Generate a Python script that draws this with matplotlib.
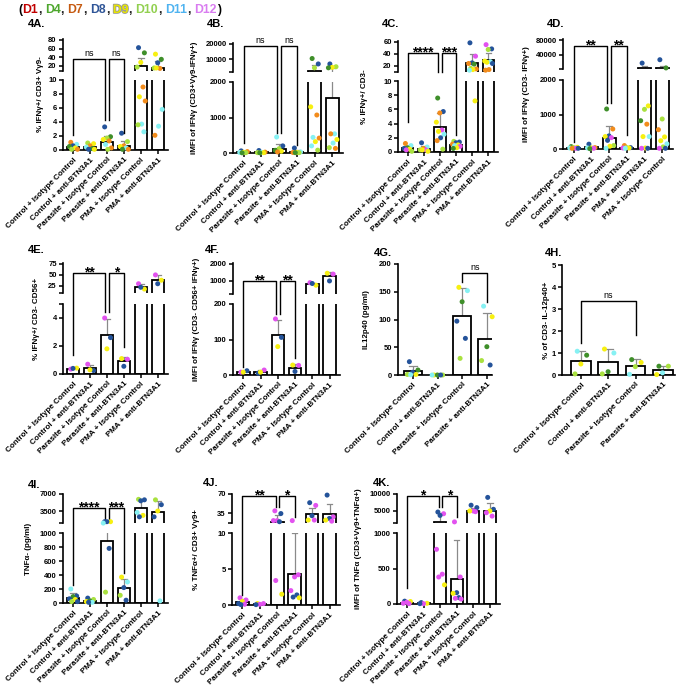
import numpy as np
import matplotlib
matplotlib.use("Agg")
import matplotlib.pyplot as plt
import matplotlib.patheffects as pe
from matplotlib.transforms import blended_transform_factory

# ---------------- data ----------------
GROUPS6 = ["Control + Isotype Control", "Control + anti-BTN3A1", "Parasite + Isotype Control",
           "Parasite + anti-BTN3A1", "PMA + Isotype Control", "PMA + anti-BTN3A1"]
GROUPS6_D = ["Control + Isotype Control", "Control + anti-BTN3A1", "Parasite + Isotype Control",
             "Parasite + anti-BTN3A1", "PMA + anti-BTN3A1", "PMA + Isotype Control"]
GROUPS4 = ["Control + Isotype Control", "Control + anti-BTN3A1", "Parasite + Isotype Control",
           "Parasite + anti-BTN3A1"]

DONORS = ["D1", "D4", "D7", "D8", "D9", "D10", "D11", "D12"]
DONOR_LEGEND_COLORS = ["#c00000", "#4ea72e", "#c55a11", "#2f5597", "#e8e600", "#92d050", "#4fb3f0", "#d97cf0"]
DONOR_DOT_COLORS = ["#c00000", "#3f8f2a", "#f28c1c", "#24539a", "#f7f011", "#a9e13f", "#86f1f3", "#e252ef"]

# 4A
A_vals = [[1.1, 0.8, 0.6, 0.5, 0.3, 0.1, 0.1], [1.0, 0.9, 0.6, 0.4, 0.2, 0.1, 0.1],
          [3.3, 1.9, 1.7, 1.5, 1.3, 0.8, 0.3, 0.1], [2.4, 1.2, 0.6, 0.5, 0.3, 0.1, 0.1],
          [62, 50, 28, 17, 9, 7.6, 7, 3.7, 3.6, 2.6], [47, 35, 27, 15, 14, 15, 5.8, 3.4, 2.1]]
A_donors = [["D7", "D11", "D8", "D4", "D9", "D10", "D7"], ["D10", "D9", "D7", "D11", "D4", "D8", "D9"],
            ["D8", "D4", "D10", "D9", "D7", "D11", "D7", "D10"], ["D8", "D10", "D7", "D9", "D11", "D4", "D7"],
            ["D8", "D4", "D9", "D10", "D7", "D9", "D7", "D11", "D10", "D11"],
            ["D9", "D4", "D8", "D10", "D7", "D9", "D11", "D11", "D7"]]
A_mean = [0.5, 0.45, 1.1, 0.55, 19, 16]
A_sd = [0.4, 0.4, 0.9, 0.75, 20, 15]

# 4B
B_vals = [[60, 40, 20, 15, 10, 5], [70, 25, 20, 10, 10, 5], [450, 200, 120, 75, 50, 30],
          [140, 30, 20, 15, 10, 10], [10500, 7000, 4500, 1300, 1070, 440, 420, 320, 200, 80],
          [7000, 5200, 4800, 4500, 540, 540, 380, 280, 150, 130]]
B_donors = [["D8", "D7", "D9", "D11", "D10", "D4"], ["D8", "D7", "D11", "D10", "D9", "D4"],
            ["D11", "D8", "D10", "D4", "D9", "D7"], ["D8", "D11", "D9", "D7", "D10", "D4"],
            ["D4", "D8", "D10", "D9", "D7", "D11", "D7", "D9", "D11", "D10"],
            ["D8", "D10", "D9", "D4", "D11", "D7", "D9", "D11", "D10", "D7"]]
B_mean = [20, 22, 120, 30, 2600, 1560]
B_sd = [20, 25, 120, 45, 3400, 2500]

# 4C
C_vals = [[1.2, 0.9, 0.6, 0.5, 0.4, 0.3, 0.1], [1.3, 0.7, 0.5, 0.3, 0.3, 0.3, 0.1],
          [7.6, 5.7, 5.5, 4.2, 3.1, 2.9, 2.5, 2.0, 1.6, 0.4], [1.5, 1.4, 1.3, 1.1, 1.0, 0.9, 0.8, 0.6, 0.5],
          [58, 36, 25, 24, 23, 16, 15, 14, 13, 7.2], [55, 48, 47, 28, 27, 26, 24, 14, 13]]
C_donors = [["D7", "D11", "D4", "D8", "D9", "D12", "D10"], ["D8", "D11", "D7", "D10", "D12", "D9", "D9"],
            ["D4", "D8", "D7", "D9", "D12", "D9", "D11", "D8", "D7", "D10"],
            ["D10", "D8", "D8", "D7", "D9", "D11", "D12", "D9", "D4"],
            ["D8", "D12", "D8", "D7", "D4", "D10", "D7", "D9", "D11", "D9"],
            ["D12", "D8", "D10", "D9", "D11", "D9", "D8", "D7", "D7"]]
C_mean = [0.5, 0.4, 3.5, 1.0, 24, 29]
C_sd = [0.4, 0.45, 2.0, 0.35, 16, 12]

# 4D
D_vals = [[70, 50, 40, 30, 20, 20, 20], [140, 40, 30, 30, 20, 10],
          [1160, 580, 380, 360, 330, 250, 100, 80, 20], [100, 40, 40, 30, 30, 20],
          [16500, 1250, 1150, 820, 720, 360, 360, 30, 20, 20],
          [26000, 3000, 870, 560, 350, 240, 150, 60, 20, 20]]
D_donors = [["D4", "D9", "D10", "D11", "D12", "D7", "D8"], ["D8", "D7", "D9", "D11", "D12", "D4"],
            ["D4", "D7", "D8", "D9", "D12", "D8", "D10", "D9", "D11"], ["D7", "D8", "D10", "D12", "D9", "D11"],
            ["D8", "D9", "D10", "D4", "D7", "D9", "D11", "D9", "D12", "D8"],
            ["D8", "D4", "D10", "D7", "D9", "D9", "D11", "D10", "D12", "D8"]]
D_mean = [35, 45, 330, 40, 3500, 3500]
D_sd = [20, 45, 340, 30, 5000, 5000]

# 4E
E_vals = [[0.35, 0.42, 0.4], [0.7, 0.25, 0.3], [4.0, 2.6, 1.8], [1.1, 1.05, 0.55], [30, 18, 22], [50, 38, 30]]
E_donors = [["D12", "D9", "D8"], ["D12", "D8", "D9"], ["D12", "D8", "D9"], ["D9", "D12", "D8"],
            ["D12", "D9", "D8"], ["D12", "D9", "D8"]]
E_mean = [0.38, 0.42, 2.8, 0.9, 23, 39]
E_sd = [0.04, 0.23, 1.1, 0.3, 6, 10]

# 4F
F_vals = [[8, 12, 8], [5, 14, 8], [158, 106, 80], [28, 27, 10], [900, 750, 850], [1450, 1400, 1000]]
F_donors = [["D12", "D8", "D9"], ["D8", "D12", "D9"], ["D12", "D8", "D9"], ["D9", "D12", "D8"],
            ["D12", "D9", "D8"], ["D9", "D12", "D8"]]
F_mean = [9, 9, 114, 21, 830, 1280]
F_sd = [2, 4.5, 40, 10, 75, 250]

# 4G
G_vals = [[24, 9, 5, 1, 1, 0.5], [0, 0, 0, 0, 0], [158, 152, 132, 97, 66, 30], [124, 105, 51, 26, 18]]
G_donors = [["D8", "D4", "D8", "D10", "D9", "D11"], ["D9", "D10", "D4", "D11", "D8"],
            ["D9", "D11", "D4", "D8", "D8", "D10"], ["D11", "D9", "D4", "D10", "D8"]]
G_mean = [6.5, 0, 106, 64]
G_sd = [9, 0, 50, 48]

# 4H
H_vals = [[1.08, 0.9, 0.5, 0.05], [1.18, 1.0, 0.15, 0.05], [0.7, 0.57, 0.38, 0.03], [0.4, 0.4, 0.1, 0.02]]
H_donors = [["D11", "D4", "D9", "D10"], ["D9", "D11", "D4", "D10"], ["D4", "D9", "D10", "D11"],
            ["D4", "D10", "D11", "D9"]]
H_mean = [0.63, 0.6, 0.42, 0.23]
H_sd = [0.45, 0.58, 0.3, 0.18]

# 4I
I_vals = [[200, 100, 90, 60, 50, 20, 20], [70, 50, 30, 20, 10, 10], [1300, 1300, 1300, 1020, 780, 155],
          [370, 300, 220, 110, 40], [5900, 5800, 5600, 3200, 2600, 2300], [5800, 4800, 3500, 2300, 30]]
I_donors = [["D11", "D8", "D4", "D8", "D9", "D10", "D8"], ["D8", "D10", "D4", "D9", "D11", "D8"],
            ["D8", "D9", "D8", "D11", "D8", "D10"], ["D9", "D11", "D8", "D10", "D8"],
            ["D10", "D8", "D8", "D11", "D9", "D8"], ["D10", "D8", "D9", "D8", "D11"]]
I_mean = [75, 30, 890, 210, 4100, 3300]
I_sd = [65, 25, 450, 140, 1600, 2300]

# 4J
J_vals = [[1.0, 0.7, 0.5, 0.2, 0.1, 0.05], [0.2, 0.2, 0.1, 0.05], [39, 34, 21, 21, 19, 3.4, 1.5],
          [21, 4.2, 3.9, 2.0, 1.4, 1.1, 1.0], [54, 49, 30, 22, 22], [68, 28, 25, 22, 20]]
J_donors = [["D12", "D12", "D9", "D8", "D12", "D8"], ["D9", "D12", "D12", "D8"],
            ["D12", "D8", "D12", "D12", "D8", "D12", "D9"], ["D12", "D12", "D12", "D12", "D8", "D8", "D9"],
            ["D8", "D12", "D8", "D9", "D12"], ["D8", "D12", "D8", "D9", "D12"]]
J_mean = [0.45, 0.15, 19, 4.3, 33, 33]
J_sd = [0.35, 0.1, 12, 5.7, 12, 18]

# 4K
K_vals = [[40, 35, 25, 10, 5], [20, 10, 5, 5], [4700, 4200, 3700, 770, 420, 380, 270],
          [1800, 380, 160, 150, 90, 80, 70], [6700, 6000, 5000, 5000, 4800], [9000, 5500, 5000, 4500, 3500]]
K_donors = [["D8", "D9", "D12", "D12", "D12"], ["D8", "D9", "D12", "D8"],
            ["D8", "D12", "D8", "D12", "D12", "D12", "D9"], ["D12", "D12", "D8", "D9", "D8", "D12", "D12"],
            ["D8", "D8", "D12", "D9", "D12"], ["D8", "D8", "D9", "D12", "D12"]]
K_mean = [20, 10, 1900, 350, 5000, 5000]
K_sd = [15, 8, 2400, 550, 900, 2300]

# ---------------- layout (pixels) ----------------
W, H = 677, 693
plt.rcParams['font.family'] = ['Liberation Sans', 'DejaVu Sans']
plt.rcParams['font.weight'] = 'bold'
fig = plt.figure(figsize=(W / 100, H / 100), dpi=100)
DOT = dict(zip(DONORS, DONOR_DOT_COLORS))

PANELS = [
    dict(title="4A.", tpos=(28, 24), vals=A_vals, donors=A_donors, mean=A_mean, sd=A_sd, groups=GROUPS6,
         x=(63, 168), xlim=(-0.6, 5.6), low_px=(80, 150), low_lim=(0, 10), low_ticks=[0, 2, 4, 6, 8, 10],
         up_px=(39, 71), up_lim=(8, 82), up_ticks=[20, 40, 60, 80],
         ylabel="% IFNγ+/ CD3+ Vγ9-", lx=40,
         br=[(0, 2, 59, 135, 120, "ns"), (2, 3, 59, 120, 133, "ns")]),
    dict(title="4B.", tpos=(207, 24), vals=B_vals, donors=B_donors, mean=B_mean, sd=B_sd, groups=GROUPS6,
         x=(233, 343), xlim=(-0.6, 5.6), low_px=(82, 153), low_lim=(0, 2000), low_ticks=[0, 1000, 2000],
         up_px=(43, 72), up_lim=(1800, 20500), up_ticks=[10000, 20000],
         ylabel="iMFI of IFNγ (CD3+Vγ9-IFNγ+)", lx=195,
         br=[(0, 2, 46, 143, 133, "ns"), (2, 3, 46, 133, 145, "ns")]),
    dict(title="4C.", tpos=(382, 24), vals=C_vals, donors=C_donors, mean=C_mean, sd=C_sd, groups=GROUPS6,
         x=(398, 498), xlim=(-0.6, 5.6), low_px=(81, 152), low_lim=(0, 10), low_ticks=[0, 2, 4, 6, 8, 10],
         up_px=(41, 72), up_lim=(10, 61), up_ticks=[20, 40, 60],
         ylabel="% IFNγ+/ CD3-", lx=364,
         br=[(0, 2, 53, 122, 72, "****"), (2, 3, 53, 72, 135, "***")]),
    dict(title="4D.", tpos=(547, 24), vals=D_vals, donors=D_donors, mean=D_mean, sd=D_sd, groups=GROUPS6_D,
         x=(563, 673), xlim=(-0.6, 5.6), low_px=(80, 149), low_lim=(0, 2000), low_ticks=[0, 1000, 2000],
         up_px=(39, 69), up_lim=(0, 84000), up_ticks=[40000, 80000],
         ylabel="iMFI of IFNγ (CD3- IFNγ+)", lx=527,
         br=[(0, 2, 46, 142, 103, "**"), (2, 3, 46, 103, 135, "**")]),
    dict(title="4E.", tpos=(28, 250), vals=E_vals, donors=E_donors, mean=E_mean, sd=E_sd, groups=GROUPS6,
         x=(63, 168), xlim=(-0.6, 5.6), low_px=(304, 374), low_lim=(0, 5), low_ticks=[0, 2, 4],
         up_px=(263, 293), up_lim=(9, 77), up_ticks=[25, 50, 75],
         ylabel="% IFNγ+/ CD3- CD56+", lx=36,
         br=[(0, 2, 273, 355, 312, "**"), (2, 3, 273, 312, 347, "*")]),
    dict(title="4F.", tpos=(205, 250), vals=F_vals, donors=F_donors, mean=F_mean, sd=F_sd, groups=GROUPS6,
         x=(233, 340), xlim=(-0.6, 5.6), low_px=(304, 375), low_lim=(0, 200), low_ticks=[0, 100, 200],
         up_px=(263, 294), up_lim=(235, 2050), up_ticks=[1000, 2000],
         ylabel="iMFI of IFNγ (CD3- CD56+ IFNγ+)", lx=197,
         br=[(0, 2, 281, 367, 314, "**"), (2, 3, 281, 314, 358, "**")]),
    dict(title="4G.", tpos=(374, 253), vals=G_vals, donors=G_donors, mean=G_mean, sd=G_sd, groups=GROUPS4,
         x=(398, 492), xlim=(-0.6, 3.2), low_px=(264, 375), low_lim=(0, 200), low_ticks=[0, 50, 100, 150, 200],
         up_px=None, ylabel="IL12p40 (pg/ml)", lx=367,
         br=[(2, 3, 273, 282, 302, "ns")]),
    dict(title="4H.", tpos=(545, 253), vals=H_vals, donors=H_donors, mean=H_mean, sd=H_sd, groups=GROUPS4,
         x=(562, 675), xlim=(-0.7, 3.45), low_px=(265, 375), low_lim=(0, 5), low_ticks=[0, 1, 2, 3, 4, 5],
         up_px=None, ylabel="% of CD3- IL-12p40+", lx=547,
         br=[(0, 2, 301, 343, 335, "ns")]),
    dict(title="4I.", tpos=(28, 485), vals=I_vals, donors=I_donors, mean=I_mean, sd=I_sd, groups=GROUPS6,
         x=(63, 168), xlim=(-0.6, 5.6), low_px=(533, 603), low_lim=(0, 1000),
         low_ticks=[0, 200, 400, 600, 800, 1000],
         up_px=(494, 523), up_lim=(1030, 7000), up_ticks=[3500, 7000],
         ylabel="TNFα- (pg/ml)", lx=28,
         br=[(0, 2, 508, 585, 520, "****"), (2, 3, 508, 520, 573, "***")]),
    dict(title="4J.", tpos=(203, 483), vals=J_vals, donors=J_donors, mean=J_mean, sd=J_sd, groups=GROUPS6,
         x=(232, 340), xlim=(-0.6, 5.6), low_px=(533, 605), low_lim=(0, 10), low_ticks=[0, 5, 10],
         up_px=(494, 523), up_lim=(16.6, 70), up_ticks=[35, 70],
         ylabel="% TNFα+/ CD3+ Vγ9+", lx=197,
         br=[(0, 2, 496, 595, 507, "**"), (2, 3, 496, 507, 517, "*")]),
    dict(title="4K.", tpos=(373, 483), vals=K_vals, donors=K_donors, mean=K_mean, sd=K_sd, groups=GROUPS6,
         x=(397, 500), xlim=(-0.6, 5.6), low_px=(533, 604), low_lim=(0, 1000), low_ticks=[0, 500, 1000],
         up_px=(494, 523), up_lim=(1470, 10000), up_ticks=[5000, 10000],
         ylabel="iMFI of TNFα (CD3+Vγ9+TNFα+)", lx=358,
         br=[(0, 2, 496, 588, 507, "*"), (2, 3, 496, 507, 517, "*")]),
]

TICK_FS = 5.5
XT_FS = 5.8
BAR_W = 0.72
ERR_C = '#8a8a8a'


def px_axes(x0, x1, ytop, ybot):
    return fig.add_axes([x0 / W, 1 - ybot / H, (x1 - x0) / W, (ybot - ytop) / H])


def style_axis(ax, lim, ticks, lower, extra_bottom=False, extra_top=False):
    ax.set_facecolor('none')
    for s in ['top', 'right']:
        ax.spines[s].set_visible(False)
    ax.spines['left'].set_linewidth(1.2)
    ax.spines['bottom'].set_linewidth(1.2)
    if not lower:
        ax.spines['bottom'].set_visible(False)
        ax.tick_params(axis='x', bottom=False, labelbottom=False)
    ax.set_ylim(*lim)
    tks = list(ticks)
    lbls = [f"{t:g}" for t in ticks]
    if extra_bottom:
        tks.append(lim[0]); lbls.append("")
    if extra_top:
        tks.append(lim[1]); lbls.append("")
    ax.set_yticks(tks)
    ax.set_yticklabels(lbls, fontsize=TICK_FS, fontweight='bold')
    ax.tick_params(axis='y', length=3, width=1.1, pad=1.5)


def draw_errors(ax, xs, means, sds, floor):
    for x, m, s in zip(xs, means, sds):
        top = m + s
        if s <= 0 or top <= floor:
            continue
        ax.plot([x, x], [max(m, floor), top], color=ERR_C, lw=0.9, zorder=1, solid_capstyle='butt')
        ax.plot([x - 0.16, x + 0.16], [top, top], color=ERR_C, lw=0.9, zorder=1)


def draw_panel(p):
    x0, x1 = p['x']
    n = len(p['mean'])
    xs = np.arange(n)
    means = np.array(p['mean'], dtype=float)
    sds = np.array(p['sd'], dtype=float)
    low = px_axes(x0, x1, *p['low_px'])
    low.bar(xs, means, width=BAR_W, color='white', edgecolor='black', linewidth=1.3, zorder=2)
    draw_errors(low, xs, means, sds, 0)
    low.set_xlim(*p['xlim'])
    style_axis(low, p['low_lim'], p['low_ticks'], True,
               extra_top=(p['low_ticks'][-1] != p['low_lim'][1]))
    top_low = p['low_lim'][1]
    up = None
    if p['up_px'] is not None:
        up = px_axes(x0, x1, *p['up_px'])
        base = p['up_lim'][0] - (p['up_lim'][1] - p['up_lim'][0])
        sel = means > top_low
        up.bar(xs[sel], means[sel] - base, bottom=base, width=BAR_W, color='white', edgecolor='black',
               linewidth=1.3, zorder=2)
        draw_errors(up, xs, means, sds, max(top_low, p['up_lim'][0]))
        up.set_xlim(*p['xlim'])
        style_axis(up, p['up_lim'], p['up_ticks'], False, extra_bottom=True)
    # dots
    for gi, (vals, dons) in enumerate(zip(p['vals'], p['donors'])):
        k = len(vals)
        offs = ((np.arange(k) * 0.618 + 0.25) % 1 - 0.5) * 0.56
        for v, d, o in zip(vals, dons, offs):
            ax = low if (v <= top_low or up is None) else up
            ax.scatter(gi + o, v, s=13, color=DOT[d], edgecolors='none', zorder=3, clip_on=False)
    low.set_xticks(xs)
    low.set_xticklabels(p['groups'], rotation=45, ha='right', rotation_mode='anchor',
                        fontsize=XT_FS, fontweight='bold')
    low.tick_params(axis='x', length=3, width=1.1, pad=1.5)
    # y label centred over the whole panel
    top_px = p['up_px'][0] if p['up_px'] is not None else p['low_px'][0]
    yc = (top_px + p['low_px'][1]) / 2
    fig.text(p['lx'] / W, 1 - yc / H, p['ylabel'], rotation=90, ha='center', va='center',
             fontsize=5.8, fontweight='bold')
    fig.text(p['tpos'][0] / W, 1 - p['tpos'][1] / H, p['title'], ha='left', va='center',
             fontsize=8, fontweight='bold')
    # brackets
    tr = blended_transform_factory(low.transData, fig.transFigure)
    shared = set()
    if len(p['br']) > 1:
        shared = set(b[1] for b in p['br']) & set(b[0] for b in p['br'])
    for g1, g2, yb, yl, yr, txt in p['br']:
        xa = g1 + (0.1 if g1 in shared else 0)
        xb = g2 - (0.1 if g2 in shared else 0)
        low.plot([xa, xa, xb, xb], [1 - yl / H, 1 - yb / H, 1 - yb / H, 1 - yr / H], transform=tr,
                 color='black', lw=1.0, clip_on=False, zorder=5)
        if txt == "ns":
            low.text((xa + xb) / 2, 1 - (yb - 3) / H, txt, transform=tr, ha='center', va='baseline',
                     fontsize=6.5, fontweight='normal')
        else:
            low.text((xa + xb) / 2, 1 - (yb + 3) / H, txt, transform=tr, ha='center', va='baseline',
                     fontsize=10, fontweight='bold')


for p in PANELS:
    draw_panel(p)

# donor legend line at top
renderer = fig.canvas.get_renderer()
xcur = 18 / W
ytxt = 1 - 10 / H


def put(s, color, stroke=False):
    global xcur
    t = fig.text(xcur, ytxt, s, color=color, fontsize=8.8, fontweight='bold', va='center', ha='left')
    if stroke:
        t.set_path_effects([pe.withStroke(linewidth=1.2, foreground='#9a9a9a')])
    bb = t.get_window_extent(renderer)
    xcur += bb.width / W
    return t


put("(", "black")
for i, (d, c) in enumerate(zip(DONORS, DONOR_LEGEND_COLORS)):
    put(d, c, stroke=(d == "D9"))
    if i < len(DONORS) - 1:
        put(",", "#222222")
        xcur += 3.5 / W
put(")", "black")

fig.savefig("out.png", dpi=100)
